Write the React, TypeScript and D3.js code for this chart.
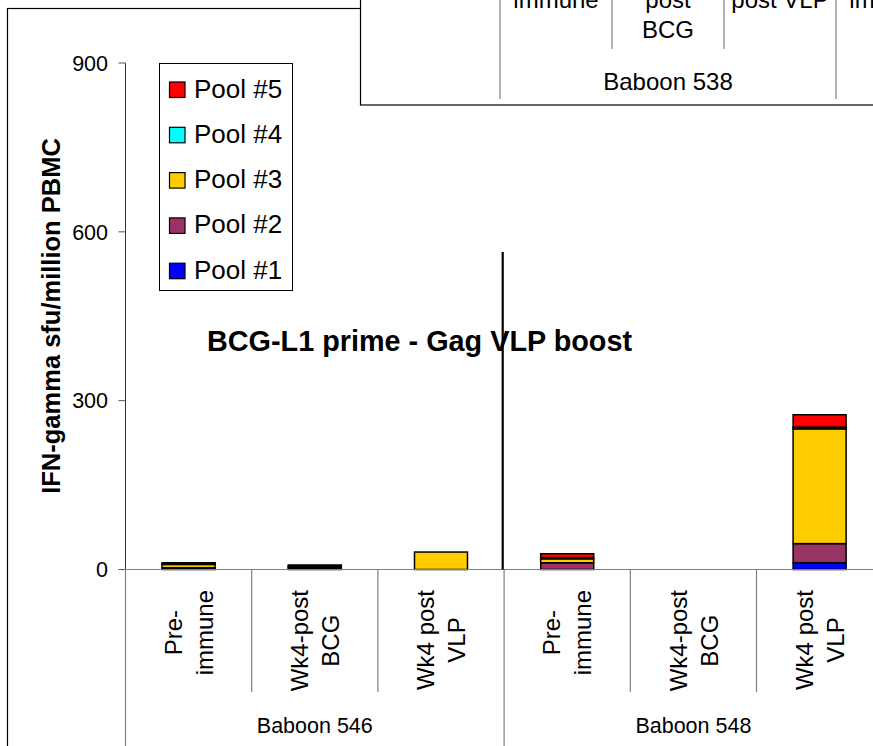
import React, { useEffect } from "react";
import * as d3 from "d3";

// ---------- data ----------
const categoryLines: string[][] = [
  ["Pre-", "immune"],
  ["Wk4-post", "BCG"],
  ["Wk4 post", "VLP"],
  ["Pre-", "immune"],
  ["Wk4-post", "BCG"],
  ["Wk4 post", "VLP"],
];
const groups = ["Baboon 546", "Baboon 548"];
const poolNames = ["Pool #1", "Pool #2", "Pool #3", "Pool #4", "Pool #5"];
const poolColors = ["#0000FF", "#993366", "#FFCC00", "#00FFFF", "#FF0000"];
const pool1 = [1, 2, 0, 0, 0, 12];
const pool2 = [2, 2, 0, 12, 0, 34];
const pool3 = [6, 2, 31, 7, 0, 204];
const pool4 = [1, 0, 0, 2, 0, 3];
const pool5 = [2, 2, 0, 7, 0, 22];
const yTicks = [0, 300, 600, 900];
const title = "BCG-L1 prime - Gag VLP boost";
const yLabel = "IFN-gamma sfu/million PBMC";

// overlapping second chart (only the visible part of its category axis)
const insetLines: string[][] = [
  ["immune"],
  ["post", "BCG"],
  ["post VLP"],
  ["immune"],
];
const insetGroup = "Baboon 538";

const FONT = "'Liberation Sans', Arial, Helvetica, sans-serif";

function measure(text: string, size: number, weight = "normal"): number {
  const c = document.createElement("canvas");
  const ctx = c.getContext("2d");
  if (!ctx) return text.length * size * 0.55;
  ctx.font = `${weight} ${size}px ${FONT}`;
  return ctx.measureText(text).width;
}

export default function App() {
  useEffect(() => {
    document.body.style.margin = "0";
  }, []);

  const W = 873;
  const H = 746;
  const x0 = 125.5;
  const catW = 126.2;
  const idx = categoryLines.map((_, i) => i);
  const x = d3.scaleBand<number>().domain(idx).range([x0, x0 + catW * idx.length]);
  const y = d3.scaleLinear().domain([0, 900]).range([569.5, 63]);
  const barW = x.bandwidth() * 0.42;

  const table = idx.map((i) => ({
    i,
    p1: pool1[i],
    p2: pool2[i],
    p3: pool3[i],
    p4: pool4[i],
    p5: pool5[i],
  }));
  const keys = ["p1", "p2", "p3", "p4", "p5"];
  const series = d3.stack<any>().keys(keys)(table);

  const xi = d3
    .scaleBand<number>()
    .domain(insetLines.map((_, i) => i))
    .range([500, 500 + 112 * insetLines.length]);

  const baseY = y(0);
  const groupBounds = [0, 3, 6];

  return (
    <svg
      width={W}
      height={H}
      style={{ position: "absolute", left: 0, top: 0, background: "#fff" }}
      fontFamily={FONT}
    >
      <rect x={0} y={0} width={W} height={H} fill="#fff" />
      {/* outer frame */}
      <rect x={7.5} y={8.5} width={W + 20} height={H + 20} fill="none" stroke="#000" strokeWidth={1.2} />

      {/* y axis */}
      <line x1={x0} x2={x0} y1={y(900)} y2={baseY} stroke="#333" strokeWidth={1} />
      {yTicks.map((t) => (
        <g key={t}>
          <line x1={x0 - 7} x2={x0} y1={y(t)} y2={y(t)} stroke="#555" strokeWidth={1} />
          <text x={108} y={y(t)} dy="0.36em" textAnchor="end" fontSize={21.5} fill="#000">
            {t}
          </text>
        </g>
      ))}
      <text
        transform={`translate(51,316) rotate(-90)`}
        textAnchor="middle"
        dy="0.36em"
        fontSize={25.5}
        fontWeight="bold"
        fill="#000"
      >
        {yLabel}
      </text>

      {/* bars */}
      {series.map((s, k) => (
        <g key={k}>
          {s.map((d: any, i: number) =>
            d[1] - d[0] > 0 ? (
              <rect
                key={i}
                x={(x(i) as number) + (x.bandwidth() - barW) / 2}
                y={y(d[1])}
                width={barW}
                height={y(d[0]) - y(d[1])}
                fill={poolColors[k]}
                stroke="#000"
                strokeWidth={1.5}
              />
            ) : null
          )}
        </g>
      ))}

      {/* x axis */}
      <line x1={x0} x2={W} y1={baseY} y2={baseY} stroke="#808080" strokeWidth={1.2} />
      {idx.concat([idx.length]).map((i) => {
        const xx = x0 + catW * i;
        const long = groupBounds.includes(i);
        return (
          <line
            key={i}
            x1={xx}
            x2={xx}
            y1={baseY}
            y2={long ? H : 692}
            stroke="#808080"
            strokeWidth={1.2}
          />
        );
      })}
      {categoryLines.map((lines, i) => {
        const cx = (x(i) as number) + x.bandwidth() / 2;
        const maxW = d3.max(lines, (l) => measure(l, 24)) || 0;
        const cy = 590 + maxW / 2;
        return (
          <g key={i}>
            {lines.map((l, j) => (
              <text
                key={j}
                transform={`translate(${cx + (j - (lines.length - 1) / 2) * 31},${cy}) rotate(-90)`}
                textAnchor="middle"
                dy="0.36em"
                fontSize={24}
                fill="#000"
              >
                {l}
              </text>
            ))}
          </g>
        );
      })}
      {groups.map((g, gi) => (
        <text
          key={g}
          x={x0 + catW * (gi * 3 + 1.5)}
          y={733}
          textAnchor="middle"
          fontSize={21.5}
          fill="#000"
        >
          {g}
        </text>
      ))}

      {/* separator line between baboons */}
      <line x1={502.7} x2={502.7} y1={252} y2={baseY} stroke="#000" strokeWidth={2.2} />

      {/* title */}
      <text x={207} y={351} fontSize={28.8} fontWeight="bold" fill="#000">
        {title}
      </text>

      {/* legend */}
      <rect x={159.5} y={63.5} width={133} height={227} fill="#fff" stroke="#000" strokeWidth={1} />
      {poolNames
        .map((n, k) => ({ n, k }))
        .reverse()
        .map(({ n, k }, r) => (
          <g key={n} transform={`translate(169,${81.5 + r * 45.3})`}>
            <rect x={0.5} y={0.5} width={15.5} height={15.5} fill={poolColors[k]} stroke="#000" strokeWidth={1.2} />
            <text x={25} y={16} fontSize={26} fill="#000">
              {n}
            </text>
          </g>
        ))}

      {/* overlapping second chart (bottom part) */}
      <rect x={360.5} y={-50} width={W} height={155} fill="#fff" stroke="#000" strokeWidth={1.2} />
      {insetLines.map((lines, i) => {
        const cx = (xi(i) as number) + xi.bandwidth() / 2;
        return (
          <g key={i}>
            {lines.map((l, j) => (
              <text
                key={j}
                x={cx}
                y={8 + j * 30}
                textAnchor="middle"
                fontSize={24}
                fill="#000"
              >
                {l}
              </text>
            ))}
          </g>
        );
      })}
      {[0, 1, 2, 3].map((i) => {
        const xx = 500 + 112 * i;
        const long = i === 0 || i === 3;
        return (
          <line
            key={i}
            x1={xx}
            x2={xx}
            y1={-10}
            y2={long ? 99 : 49}
            stroke="#808080"
            strokeWidth={1.2}
          />
        );
      })}
      <text x={668} y={90} textAnchor="middle" fontSize={24} fill="#000">
        {insetGroup}
      </text>
    </svg>
  );
}
